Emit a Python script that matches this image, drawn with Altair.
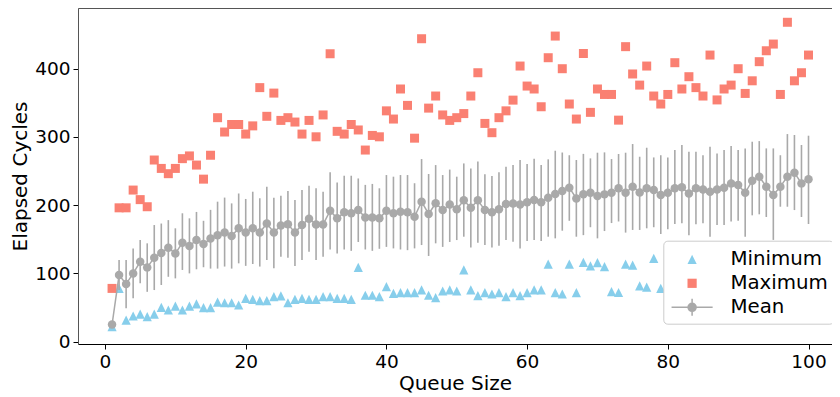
import altair as alt
import pandas as pd

queue_size = list(range(1, 101))

minimum = [
    22, 78, 31.7, 37.6, 40.5, 36.6, 40.5, 50.3, 46.4, 52.2,
    46.4, 52.2, 55.2, 49.8, 49.8, 58, 57, 57, 53.7, 63.5,
    62, 60, 60, 66, 67, 57, 62, 63.5, 62, 62,
    66, 66, 63.5, 63.5, 62, 108.8, 68, 68, 66, 80.6,
    70.8, 71.8, 71.8, 71.8, 75.7, 68, 64.5, 74.2, 75.7, 74.2,
    105, 75.7, 67.4, 71.8, 69.8, 71.8, 66, 71.8, 67.4, 71.8,
    75.7, 75.7, 113.7, 71.8, 69.8, 113.7, 71.8, 116, 111, 115.7,
    110, 73.2, 72, 113.5, 112, 81.6, 80, 122, 78, 82,
    120, 78, 84, 118, 80, 86, 122, 82, 85, 88,
    125, 84, 90, 86, 128, 88, 92, 130, 90, 94,
]

maximum = [
    78, 196, 196, 222, 208, 197.6, 266, 253.7, 246, 253.7,
    268, 272, 258.6, 238, 273, 328, 307, 318, 318, 304,
    316, 372, 330, 364, 324, 328, 321.6, 304, 324, 300,
    332, 421.6, 308, 304, 318, 310, 280.6, 302, 300, 338,
    326, 370, 346, 298, 443.6, 342, 359.7, 332, 324, 328,
    334, 359.7, 393.8, 319.6, 306, 328, 338, 353.7, 403.6, 374.3,
    370, 344, 415.8, 447.5, 399.7, 348, 326, 422, 335.8, 370,
    362, 362, 324.4, 432, 392, 375.7, 403.6, 359.7, 348, 362,
    408.5, 370, 388, 372, 359.7, 419.7, 354, 370, 375.7, 399.7,
    363.5, 382, 410, 426, 435.8, 362, 467.7, 382, 393.8, 419.7,
]

mean = [
    25, 97.6, 84.4, 100, 117, 108.8, 123, 130, 137.6, 129,
    145, 140, 149, 143, 151, 156, 160, 154.7, 166, 160,
    166, 160, 173, 160, 170, 172, 160, 171, 180, 171.7,
    171.7, 191.8, 180.6, 189.4, 188, 192.7, 182, 182, 180.6, 191.8,
    188, 190.3, 189.4, 183, 205, 187, 202.7, 192.8, 201, 194,
    207, 196, 207, 192.7, 189.4, 193.8, 201.6, 202.5, 201, 204,
    207.4, 204, 210.9, 216.2, 220.6, 225.5, 209.8, 216, 218, 213.4,
    215.7, 218, 224.5, 218, 227, 218.6, 224.5, 222, 214.8, 218,
    224.5, 226, 217, 224.5, 223, 219.6, 223, 225.5, 231.8, 229.4,
    218, 235.7, 241.6, 227, 214.8, 227, 241.6, 247.5, 231.8, 237.7,
]

err_low = [
    22, 75.6, 48.8, 63.5, 85.4, 73, 75.6, 83, 95, 92.7,
    105, 100, 106, 109, 107, 107, 110, 107, 114.7, 111,
    113.7, 110, 119.6, 107.4, 124.4, 123, 110.7, 119.6, 131.8, 119.6,
    124.4, 135, 129, 135, 133, 146, 135, 133, 136, 138.8,
    136.6, 135, 134, 136.6, 141.5, 125.5, 144, 138.8, 146, 148.8,
    153.7, 138, 145, 141.5, 138, 140.5, 148.8, 146.4, 136.6, 147.6,
    148.8, 147.6, 153.7, 151.3, 162.5, 177, 153.7, 156, 167.6, 151.3,
    162, 173.7, 176, 159.7, 163.6, 163.6, 166, 167.6, 157.7, 164.6,
    172.3, 173.3, 156, 172, 173.3, 153.7, 171, 171, 176, 177,
    153.7, 185, 186.5, 182.6, 149, 197.6, 197.6, 192.7, 182.6, 172.3,
]

err_high = [
    28, 119.6, 119.6, 136.6, 148.8, 144, 170.8, 173, 178, 166,
    188, 180.6, 190, 177, 193, 205, 211, 202.5, 217, 209,
    219.6, 210, 227, 210.8, 213.7, 220.6, 207.4, 222, 228.4, 224.5,
    219.6, 248, 233, 243, 243, 239, 229.6, 231, 224.6, 244,
    241.6, 244, 244, 232, 267.4, 245.5, 258.6, 244, 252, 241.6,
    261, 253.7, 263.7, 245, 242.6, 248, 256, 258.6, 266, 260,
    268, 258.6, 267, 279.6, 277, 273, 266, 275, 268.4, 276.7,
    277.2, 267.4, 274.8, 276.7, 289.4, 270.8, 284, 269.8, 273, 269.8,
    280.6, 288, 278.2, 278.2, 273, 285.5, 275.7, 280.6, 286.5, 280.6,
    283, 292.8, 293.7, 283, 283, 273, 304, 302.6, 288, 301.6,
]

series_names = ["Minimum", "Maximum", "Mean"]
series_colors = ["#87ceeb", "#fa8072", "#a9a9a9"]
x_ticks = [0, 20, 40, 60, 80, 100]
y_ticks = [0, 100, 200, 300, 400]

df = pd.DataFrame({
    "queue": queue_size,
    "minimum": minimum,
    "maximum": maximum,
    "mean": mean,
    "low": err_low,
    "high": err_high,
})

FONT = "DejaVu Sans"
MIN_C, MAX_C, MEAN_C = series_colors

x_scale = alt.Scale(domain=[-3.84, 103.34], nice=False, zero=False)
y_scale = alt.Scale(domain=[-3.4, 488.6], nice=False, zero=False)

x_bottom = alt.X(
    "queue:Q", scale=x_scale,
    axis=alt.Axis(values=x_ticks, orient="bottom", title="Queue Size", grid=False,
                  labelFont=FONT, labelFontSize=18.5, labelColor="black", labelPadding=3,
                  tickSize=5, tickColor="black", tickWidth=1,
                  domainColor="black", domainWidth=1,
                  titleFont=FONT, titleFontSize=20, titleFontWeight="normal",
                  titleColor="black", titlePadding=3),
)
x_top = alt.X(
    "queue:Q", scale=x_scale,
    axis=alt.Axis(orient="top", labels=False, ticks=False, title=None, grid=False,
                  domainColor="#555555", domainWidth=1),
)
x_none = alt.X("queue:Q", scale=x_scale, axis=None)

y_axis = alt.Axis(values=y_ticks, orient="left", title="Elapsed Cycles", grid=False,
                  labelFont=FONT, labelFontSize=18.5, labelColor="black", labelPadding=3,
                  tickSize=5, tickColor="black", tickWidth=1,
                  domainColor="#555555", domainWidth=1,
                  titleFont=FONT, titleFontSize=20, titleFontWeight="normal",
                  titleColor="black", titlePadding=4)

base = alt.Chart(df)

min_layer = base.mark_point(
    shape="M0,-1L-1,1L1,1Z", filled=True, opacity=1, size=85, color=MIN_C
).encode(x=x_bottom, y=alt.Y("minimum:Q", scale=y_scale, axis=y_axis))

max_layer = base.mark_point(
    shape="square", filled=True, opacity=1, size=81, color=MAX_C
).encode(x=x_top, y=alt.Y("maximum:Q", scale=y_scale, axis=None))

err_layer = base.mark_rule(color=MEAN_C, strokeWidth=1.6).encode(
    x=x_none,
    y=alt.Y("low:Q", scale=y_scale, axis=None),
    y2="high:Q",
)

mean_line = base.mark_line(color=MEAN_C, strokeWidth=1.5).encode(
    x=x_none, y=alt.Y("mean:Q", scale=y_scale, axis=None)
)

mean_pts = base.mark_point(
    shape="circle", filled=True, opacity=1, size=72, color=MEAN_C
).encode(x=x_none, y=alt.Y("mean:Q", scale=y_scale, axis=None))

legend_paths = [
    "M0,-0.354L-0.354,0.354L0.354,0.354Z",
    "M-0.354,-0.354H0.354V0.354H-0.354Z",
    "M-1.58,0H1.58M0,-0.65V0.65M0.31,0A0.31,0.31,0,1,1,-0.31,0A0.31,0.31,0,1,1,0.31,0Z",
]
legend_df = pd.DataFrame({"series": series_names})

legend_layer = alt.Chart(legend_df).transform_filter("false").mark_point(
    filled=True, opacity=1
).encode(
    shape=alt.Shape("series:N", scale=alt.Scale(domain=series_names, range=legend_paths),
                    legend=alt.Legend(title=None, zindex=1)),
    fill=alt.Fill("series:N", scale=alt.Scale(domain=series_names, range=series_colors),
                  legend=alt.Legend(title=None, zindex=1)),
    stroke=alt.Stroke("series:N",
                      scale=alt.Scale(domain=series_names,
                                      range=["transparent", "transparent", MEAN_C]),
                      legend=alt.Legend(title=None, zindex=1)),
)

chart = alt.layer(
    min_layer, max_layer, err_layer, mean_line, mean_pts, legend_layer
).resolve_axis(x="independent", y="independent").properties(
    width=754,
    height=336,
    autosize=alt.AutoSizeParams(type="none"),
    padding={"left": 70, "top": 0, "right": 0, "bottom": 52},
).configure_view(stroke=None).configure(font=FONT).configure_legend(
    orient="none", legendX=585.3, legendY=232.7,
    padding=4.6, rowPadding=0, symbolSize=676, symbolOffset=10.2,
    symbolStrokeWidth=1.5, labelOffset=24.3, labelFont=FONT, labelFontSize=19.8,
    labelColor="black", fillColor="#ffffff", strokeColor="#cccccc",
    cornerRadius=4, strokeWidth=1,
)

chart.save("out.html", embed_options={"renderer": "svg", "actions": False})
